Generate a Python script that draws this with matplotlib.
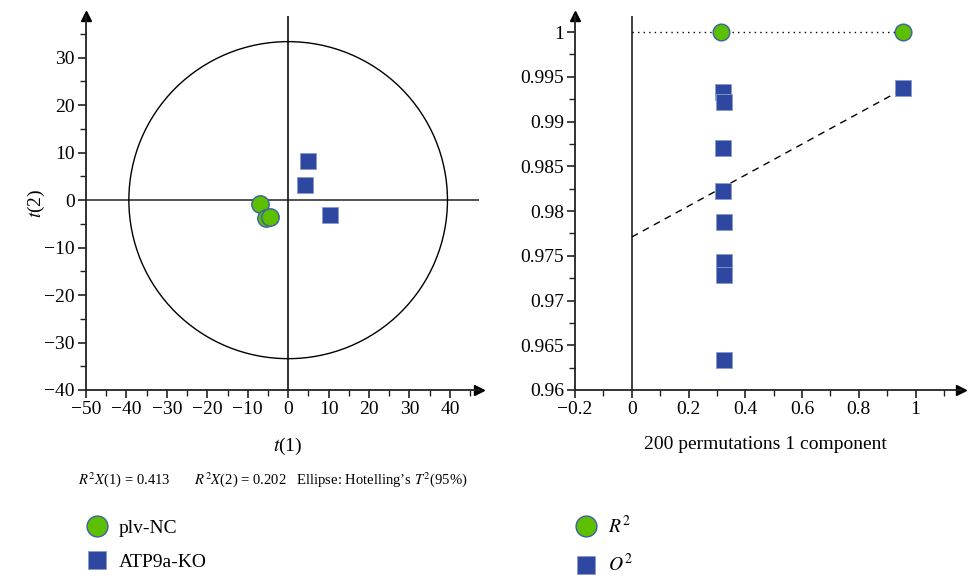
import matplotlib
matplotlib.use("Agg")
import matplotlib.pyplot as plt
from matplotlib.patches import Ellipse
from matplotlib.lines import Line2D
from matplotlib.ticker import MultipleLocator

plt.rcParams['font.family'] = ['Liberation Serif', 'DejaVu Serif']
plt.rcParams['mathtext.fontset'] = 'stix'

# score plot (t1 vs t2)
nc_t1 = [-6.9, -5.4, -4.6]
nc_t2 = [-0.8, -3.8, -3.5]
ko_t1 = [4.9, 4.2, 10.4]
ko_t2 = [8.2, 3.2, -3.2]
ellipse_a = 39.4   # Hotelling's T2 semi-axis on t(1)
ellipse_b = 33.4   # semi-axis on t(2)
r2x = [0.413, 0.202]

# permutation test (200 permutations)
perm_r2_x = [0.315]
perm_r2_y = [1.0]
perm_q2_x = [0.323, 0.325, 0.322, 0.323, 0.325, 0.325, 0.326, 0.324]
perm_q2_y = [0.9933, 0.9922, 0.9871, 0.9822, 0.9788, 0.9743, 0.9728, 0.9634]
orig_x = 0.956
orig_r2 = 1.0
orig_q2 = 0.9937
r2_intercept = 1.0
q2_intercept = 0.9771

GREEN = '#5cbf00'
EDGE = '#3d5fa8'
BLUE = '#2e47a0'
AXC = '#222222'

fig = plt.figure(figsize=(9.69, 5.8), dpi=100)

# ---- left: score plot ----
ax1 = fig.add_axes([86 / 969, 1 - 390 / 580, 393 / 969, 374 / 580])
ax1.set_xlim(-50, 47.2)
ax1.set_ylim(-40, 38.8)
for s in ['top', 'right']:
    ax1.spines[s].set_visible(False)
ax1.axhline(0, color='#444444', lw=1.3, zorder=1)
ax1.axvline(0, color='#222222', lw=1.3, zorder=1)
ax1.add_patch(Ellipse((0, 0), 2 * ellipse_a, 2 * ellipse_b, fill=False,
                      ec='black', lw=1.0, zorder=1))
ax1.plot(nc_t1, nc_t2, 'o', ms=12.5, mfc=GREEN, mec=EDGE, mew=1.0, ls='none', zorder=3)
ax1.plot(ko_t1, ko_t2, 's', ms=11.5, mfc=BLUE, mec='#8a9ccc', mew=0.6, ls='none', zorder=3)
ax1.xaxis.set_minor_locator(MultipleLocator(5))
ax1.yaxis.set_minor_locator(MultipleLocator(5))
ax1.set_xticks(range(-50, 41, 10))
ax1.set_yticks(range(-40, 31, 10))
ax1.set_xticklabels([str(v).replace('-', '\u2212') for v in range(-50, 41, 10)])
ax1.set_yticklabels([str(v).replace('-', '\u2212') for v in range(-40, 31, 10)])
ax1.plot(1, 0, '>', color='black', ms=7, transform=ax1.transAxes, clip_on=False)
ax1.plot(0, 1, '^', color='black', ms=7, transform=ax1.transAxes, clip_on=False)
ax1.set_xlabel('$t$(1)', fontsize=14)
ax1.xaxis.set_label_coords(50 / 97.2, -0.122)
ax1.set_ylabel('$t$(2)', fontsize=14)
ax1.yaxis.set_label_coords(-0.1, 0.5)

# ---- right: permutation plot ----
ax2 = fig.add_axes([575 / 969, 1 - 390 / 580, 386 / 969, 374 / 580])
ax2.set_xlim(-0.2, 1.16)
ax2.set_ylim(0.96, 1.0018)
for s in ['top', 'right']:
    ax2.spines[s].set_visible(False)
ax2.axvline(0, color='#333333', lw=1.3, zorder=1)
ax2.plot([0, orig_x], [r2_intercept, orig_r2], ls=(0, (1, 3)), color='black', lw=1.0, zorder=1)
ax2.plot([0, orig_x - 0.02], [q2_intercept, orig_q2 - 0.0004], ls=(0, (5, 4)),
         color='black', lw=1.0, zorder=1)
ax2.plot(perm_q2_x + [orig_x], perm_q2_y + [orig_q2], 's', ms=11.5, mfc=BLUE,
         mec='#8a9ccc', mew=0.6, ls='none', zorder=3)
ax2.plot(perm_r2_x + [orig_x], perm_r2_y + [orig_r2], 'o', ms=12, mfc=GREEN,
         mec=EDGE, mew=1.0, ls='none', zorder=4)
xt = [-0.2, 0, 0.2, 0.4, 0.6, 0.8, 1]
ax2.set_xticks(xt)
ax2.set_xticklabels(['\u22120.2', '0', '0.2', '0.4', '0.6', '0.8', '1'])
ax2.xaxis.set_minor_locator(MultipleLocator(0.1))
yt = [0.96, 0.965, 0.97, 0.975, 0.98, 0.985, 0.99, 0.995, 1.0]
ax2.set_yticks(yt)
ax2.set_yticklabels(['0.96', '0.965', '0.97', '0.975', '0.98', '0.985', '0.99', '0.995', '1'])
ax2.yaxis.set_minor_locator(MultipleLocator(0.0025))
ax2.plot(1, 0, '>', color='black', ms=7, transform=ax2.transAxes, clip_on=False)
ax2.plot(0, 1, '^', color='black', ms=7, transform=ax2.transAxes, clip_on=False)
ax2.set_xlabel('200 permutations 1 component', fontsize=14)
ax2.xaxis.set_label_coords((765 - 575) / 386, -0.122)

for ax in (ax1, ax2):
    for s in ['left', 'bottom']:
        ax.spines[s].set_linewidth(1.3)
        ax.spines[s].set_color(AXC)
    ax.tick_params(which='major', direction='out', length=6, width=1.2, labelsize=14,
                   colors=AXC, labelcolor='black', pad=2)
    ax.tick_params(which='minor', direction='out', length=4, width=1.0, colors=AXC)

fig.text(78 / 969, 1 - 480 / 580,
         '$R^2X$(1) = %.3f       $R^2X$(2) = %.3f   Ellipse: Hotelling\u2019s $T^2$(95%%)'
         % (r2x[0], r2x[1]), fontsize=10.5, va='center')

leg1 = fig.legend(handles=[
    Line2D([], [], marker='o', ls='none', ms=15, mfc=GREEN, mec=EDGE, mew=1.0, label='plv-NC'),
    Line2D([], [], marker='s', ls='none', ms=13, mfc=BLUE, mec='#8a9ccc', mew=0.6, label='ATP9a-KO')],
    loc='center left', bbox_to_anchor=(77 / 969, 1 - 545 / 580), frameon=False,
    fontsize=14, labelspacing=0.85, handletextpad=0.55, handlelength=1.1, borderpad=0)
leg2 = fig.legend(handles=[
    Line2D([], [], marker='o', ls='none', ms=15, mfc=GREEN, mec=EDGE, mew=1.0, label='$R^2$'),
    Line2D([], [], marker='s', ls='none', ms=13, mfc=BLUE, mec='#8a9ccc', mew=0.6, label='$O^2$')],
    loc='center left', bbox_to_anchor=(566 / 969, 1 - 545 / 580), frameon=False,
    fontsize=14, labelspacing=0.85, handletextpad=0.55, handlelength=1.1, borderpad=0)

fig.savefig('out.png', dpi=100)
